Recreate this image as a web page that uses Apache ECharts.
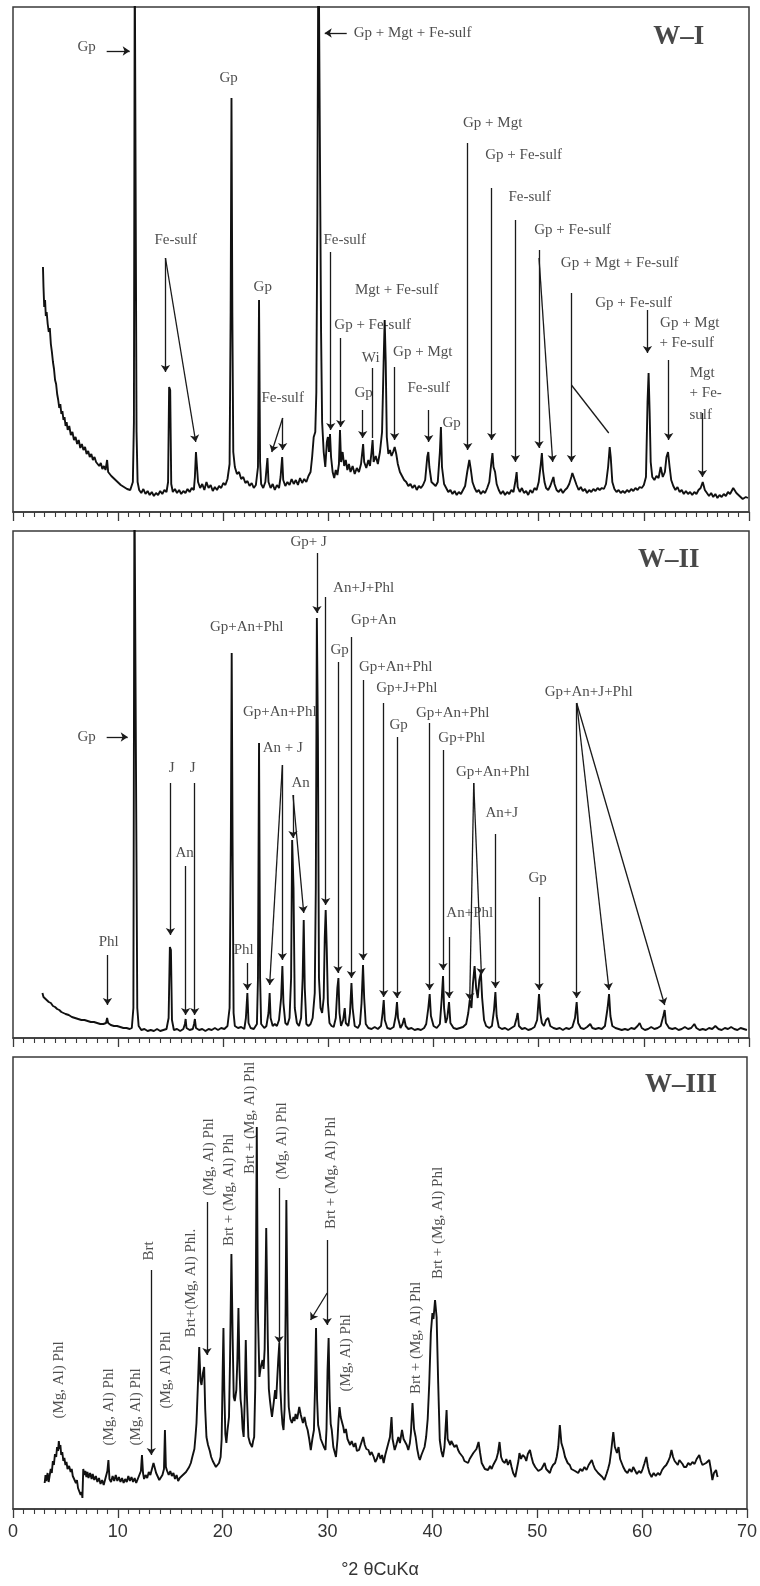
<!DOCTYPE html>
<html><head><meta charset="utf-8">
<script src="https://cdn.jsdelivr.net/npm/echarts@6/dist/echarts.min.js"></script>
<style>html,body{margin:0;padding:0;background:#fff}#c{width:760px;height:1586px}</style>
</head><body><div id="c"></div>
<script>
// ---------- data: [2theta, intensity] ----------
const traceWI = [
[2.85,245],[2.9,225],[2.97,205],[3.05,212],[3.12,196],[3.2,200],[3.3,188],[3.4,180],[3.5,184],[3.6,168],[3.7,160],[3.8,150],[3.9,143],[4.0,132],[4.1,128],[4.2,118],[4.3,112],[4.4,104],[4.5,108],[4.6,98],[4.7,101],[4.8,92],[4.9,95],[5.0,86],[5.1,90],[5.2,82],[5.35,86],[5.5,77],[5.65,80],[5.8,72],[5.95,75],[6.1,68],[6.25,72],[6.4,64],[6.55,68],[6.7,62],[6.85,65],[7.0,58],[7.15,61],[7.3,55],[7.45,58],[7.6,52],[7.75,55],[7.9,50],[8.05,52],[8.2,46],[8.35,49],[8.5,43],[8.65,46],[8.8,42],[8.95,52],[9.05,40],[9.2,41],[9.35,36],[9.5,38],[9.65,33],[9.8,35],[9.95,30],[10.1,32],[10.25,27],[10.4,29],[10.55,25],[10.7,27],[10.85,23],[11.0,25],[11.15,22],[11.3,24],[11.4,30],[11.5,90],[11.58,560],[11.66,560],[11.75,80],[11.85,30],[12.0,22],
[12.2,19],[12.4,23],[12.6,18],[12.8,21],[13.0,17],[13.2,20],[13.4,16],[13.6,19],[13.8,17],[14.0,21],[14.2,18],[14.4,22],[14.6,20],[14.75,30],[14.85,125],[14.95,122],[15.05,28],[15.2,20],[15.4,23],[15.6,19],[15.8,22],[16.0,18],[16.2,21],[16.4,19],[16.6,23],[16.8,20],[17.0,24],[17.2,22],[17.3,35],[17.4,60],[17.5,58],[17.6,30],[17.8,24],[18.0,28],[18.2,22],[18.4,30],[18.6,24],[18.8,27],[19.0,21],[19.2,25],[19.4,22],[19.6,26],[19.8,24],[20.0,29],[20.2,27],[20.4,33],[20.6,48],[20.7,200],[20.78,414],[20.86,200],[20.95,60],[21.1,45],[21.3,38],[21.5,40],[21.7,33],[21.9,35],[22.1,29],[22.3,31],[22.5,26],[22.7,29],[22.9,24],[23.1,27],[23.3,45],[23.4,212],[23.5,50],[23.6,28],[23.8,24],[24.0,30],[24.2,54],[24.3,30],[24.5,24],[24.7,28],[24.9,22],[25.1,27],[25.3,24],[25.45,35],[25.6,55],[25.7,32],[25.9,26],[26.1,30],[26.3,27],[26.5,33],[26.7,28],[26.9,32],[27.1,27],[27.3,34],[27.5,29],[27.7,33],[27.9,30],[28.1,36],[28.3,40],[28.45,55],[28.6,75],[28.75,80],[28.85,120],[28.95,300],[29.05,600],[29.2,600],[29.3,180],[29.4,90],[29.55,60],[29.7,45],[29.85,70],[29.95,75],[30.05,60],[30.15,78],[30.25,55],[30.4,40],[30.55,34],[30.7,42],[30.85,37],[31.0,48],[31.1,82],[31.2,50],[31.35,60],[31.5,46],[31.65,52],[31.8,42],[31.95,48],[32.1,40],[32.3,46],[32.5,38],[32.7,44],[32.9,40],[33.1,48],[33.3,68],[33.4,50],[33.6,44],[33.8,52],[33.95,46],[34.1,60],[34.2,72],[34.3,50],[34.5,56],[34.7,48],[34.9,60],[35.1,80],[35.25,150],[35.35,192],[35.45,150],[35.55,75],[35.7,58],[35.85,62],[36.0,56],[36.15,60],[36.3,65],[36.45,58],[36.6,48],[36.8,40],[37.0,36],[37.2,32],[37.4,30],[37.6,26],[37.8,28],[38.0,24],[38.2,27],[38.4,22],[38.6,26],[38.8,24],[39.0,27],[39.2,32],[39.4,55],[39.5,60],[39.6,45],[39.8,30],[40.0,28],[40.2,26],[40.4,30],[40.6,60],[40.7,85],[40.8,45],[41.0,28],[41.2,24],[41.4,20],[41.6,22],[41.8,18],[42.0,21],[42.2,17],[42.4,20],[42.6,18],[42.8,22],[43.0,26],[43.2,40],[43.4,52],[43.55,42],[43.7,30],[43.9,24],[44.1,20],[44.3,22],[44.5,18],[44.7,21],[44.9,19],[45.1,24],[45.3,30],[45.5,50],[45.6,59],[45.7,45],[45.85,40],[46.0,28],[46.2,22],[46.4,18],[46.6,21],[46.8,17],[47.0,20],[47.2,18],[47.4,22],[47.6,20],[47.8,32],[47.9,40],[48.0,25],[48.2,20],[48.4,24],[48.6,19],[48.8,21],[49.0,17],[49.2,22],[49.4,19],[49.6,24],[49.8,22],[50.0,30],[50.2,48],[50.3,59],[50.4,42],[50.55,30],[50.7,24],[50.9,22],[51.1,26],[51.3,32],[51.4,35],[51.5,28],[51.7,22],[51.9,20],[52.1,23],[52.3,19],[52.5,22],[52.7,24],[52.9,28],[53.1,35],[53.2,39],[53.4,33],[53.6,27],[53.8,22],[54.0,25],[54.2,21],[54.4,23],[54.6,19],[54.8,22],[55.0,20],[55.2,23],[55.4,21],[55.6,24],[55.8,22],[56.0,24],[56.2,23],[56.4,28],[56.6,45],[56.75,65],[56.85,55],[57.0,30],[57.2,23],[57.4,20],[57.6,22],[57.8,19],[58.0,21],[58.2,19],[58.4,22],[58.6,20],[58.8,23],[59.0,21],[59.2,24],[59.4,22],[59.6,25],[59.8,24],[60.0,27],[60.2,35],[60.35,110],[60.45,139],[60.55,100],[60.65,50],[60.8,35],[61.0,32],[61.2,36],[61.4,34],[61.6,45],[61.8,35],[62.0,40],[62.15,55],[62.3,60],[62.45,45],[62.6,32],[62.8,26],[63.0,22],[63.2,25],[63.4,20],[63.6,22],[63.8,18],[64.0,21],[64.2,18],[64.4,20],[64.6,17],[64.8,20],[65.0,18],[65.2,22],[65.4,24],[65.6,30],[65.8,22],[66.0,19],[66.2,16],[66.4,19],[66.6,15],[66.8,18],[67.0,14],[67.2,17],[67.4,15],[67.6,18],[67.8,16],[68.0,20],[68.2,18],[68.5,24],[68.8,19],[69.1,16],[69.4,13],[69.7,15],[69.9,14]
];
const traceWII = [
[2.8,45],[2.9,41],[3.0,43],[3.1,39],[3.25,40],[3.4,36],[3.6,35],[3.8,32],[4.0,31],[4.2,29],[4.4,28],[4.6,26],[4.8,25],[5.0,24],[5.3,23],[5.6,21],[5.9,20],[6.2,19],[6.5,18],[6.8,18],[7.1,17],[7.4,16],[7.7,16],[8.0,15],[8.3,14],[8.6,14],[8.85,15],[8.95,20],[9.05,15],[9.3,13],[9.6,12],[9.9,12],[10.2,11],[10.5,10],[10.8,10],[11.1,9],[11.3,10],[11.45,30],[11.55,560],[11.72,560],[11.82,30],[11.95,12],[12.2,8],[12.5,9],[12.8,7],[13.1,8],[13.4,7],[13.7,9],[14.0,7],[14.3,8],[14.6,9],[14.8,20],[14.92,91],[15.02,88],[15.12,18],[15.3,8],[15.6,9],[15.9,7],[16.2,9],[16.35,14],[16.42,19],[16.5,10],[16.8,8],[17.1,9],[17.22,14],[17.3,19],[17.4,10],[17.7,8],[18.0,9],[18.3,7],[18.6,9],[18.9,8],[19.2,10],[19.5,8],[19.8,10],[20.1,9],[20.4,12],[20.6,30],[20.72,200],[20.8,385],[20.88,200],[20.98,25],[21.1,12],[21.4,10],[21.7,11],[22.0,9],[22.15,20],[22.29,45],[22.4,15],[22.6,10],[22.9,9],[23.2,14],[23.3,60],[23.4,295],[23.5,60],[23.6,14],[23.9,10],[24.1,12],[24.3,25],[24.41,45],[24.5,20],[24.7,12],[24.9,14],[25.1,12],[25.3,18],[25.5,40],[25.62,72],[25.72,35],[25.9,15],[26.1,13],[26.3,20],[26.45,60],[26.55,198],[26.68,150],[26.8,30],[27.0,15],[27.2,12],[27.4,20],[27.55,60],[27.65,118],[27.75,50],[27.9,14],[28.1,12],[28.3,14],[28.5,20],[28.7,45],[28.8,150],[28.9,420],[29.0,300],[29.1,60],[29.25,30],[29.4,25],[29.55,40],[29.65,100],[29.74,128],[29.84,90],[29.95,35],[30.1,15],[30.3,12],[30.5,11],[30.7,20],[30.85,50],[30.95,60],[31.05,25],[31.2,12],[31.4,18],[31.55,30],[31.65,15],[31.9,12],[32.05,25],[32.19,55],[32.3,30],[32.5,12],[32.8,10],[33.0,14],[33.15,35],[33.29,73],[33.4,40],[33.55,14],[33.8,10],[34.1,9],[34.4,11],[34.7,9],[35.0,12],[35.15,25],[35.26,38],[35.36,18],[35.6,10],[35.9,9],[36.2,11],[36.4,22],[36.52,36],[36.62,20],[36.85,10],[37.05,14],[37.2,20],[37.35,12],[37.6,9],[37.9,10],[38.2,8],[38.5,9],[38.8,8],[39.1,10],[39.3,14],[39.5,30],[39.63,44],[39.75,22],[40.0,12],[40.3,10],[40.6,14],[40.78,40],[40.9,62],[41.0,30],[41.15,15],[41.3,20],[41.47,36],[41.6,15],[41.9,10],[42.2,9],[42.5,10],[42.8,11],[43.1,14],[43.3,25],[43.44,38],[43.6,30],[43.75,55],[43.9,72],[44.05,50],[44.2,40],[44.35,58],[44.5,65],[44.62,40],[44.8,18],[45.0,12],[45.3,10],[45.55,12],[45.75,28],[45.88,46],[46.0,22],[46.2,11],[46.5,9],[46.8,10],[47.1,8],[47.4,10],[47.7,12],[47.9,20],[48.0,25],[48.12,12],[48.4,9],[48.7,10],[49.0,8],[49.3,9],[49.6,11],[49.85,18],[50.03,44],[50.15,25],[50.3,15],[50.5,12],[50.7,18],[50.9,20],[51.1,12],[51.4,10],[51.7,9],[52.0,10],[52.3,8],[52.6,10],[52.9,9],[53.2,11],[53.45,20],[53.61,36],[53.75,15],[54.0,10],[54.3,9],[54.6,11],[54.9,14],[55.1,10],[55.4,9],[55.7,10],[56.0,9],[56.3,12],[56.55,30],[56.69,44],[56.82,22],[57.0,12],[57.3,10],[57.6,9],[57.9,8],[58.2,9],[58.5,8],[58.8,10],[59.1,9],[59.4,12],[59.6,15],[59.8,10],[60.1,8],[60.4,9],[60.7,11],[61.0,9],[61.3,10],[61.6,12],[61.85,22],[61.98,28],[62.1,15],[62.4,10],[62.7,9],[63.0,10],[63.3,8],[63.6,9],[63.9,11],[64.2,9],[64.5,10],[64.8,14],[65.0,10],[65.3,8],[65.6,9],[65.9,8],[66.2,10],[66.5,9],[66.8,12],[67.1,9],[67.4,8],[67.7,10],[68.0,9],[68.3,11],[68.6,9],[68.9,8],[69.2,10],[69.5,9],[69.8,8]
];
const traceWIII = [
[3.02,26],[3.1,34],[3.17,28],[3.3,36],[3.4,27],[3.49,33],[3.6,40],[3.7,36],[3.8,48],[3.9,44],[4.0,55],[4.12,52],[4.2,62],[4.3,58],[4.37,68],[4.45,60],[4.52,64],[4.6,54],[4.7,57],[4.8,48],[4.9,51],[5.0,44],[5.1,47],[5.2,40],[5.35,43],[5.5,37],[5.6,40],[5.7,33],[5.85,35],[6.0,26],[6.1,29],[6.2,21],[6.34,20],[6.45,14],[6.55,17],[6.62,11],[6.7,40],[6.8,34],[6.9,38],[7.0,32],[7.1,37],[7.2,31],[7.35,36],[7.5,30],[7.6,35],[7.75,29],[7.9,33],[8.05,27],[8.2,31],[8.35,25],[8.5,29],[8.65,24],[8.8,30],[8.9,28],[9.0,38],[9.1,49],[9.2,30],[9.35,27],[9.5,33],[9.65,28],[9.8,34],[9.95,28],[10.1,32],[10.25,27],[10.4,31],[10.55,26],[10.7,30],[10.85,27],[11.0,33],[11.15,28],[11.3,32],[11.45,27],[11.6,31],[11.75,26],[11.9,30],[12.05,32],[12.2,38],[12.3,54],[12.4,36],[12.5,30],[12.65,34],[12.8,31],[12.95,37],[13.1,34],[13.25,40],[13.4,46],[13.5,42],[13.65,36],[13.8,34],[13.95,29],[14.1,28],[14.25,34],[14.4,40],[14.49,79],[14.58,42],[14.7,38],[14.85,34],[15.0,38],[15.15,33],[15.3,36],[15.45,30],[15.6,34],[15.75,28],[15.9,31],[16.05,30],[16.2,34],[16.35,32],[16.5,37],[16.65,35],[16.8,42],[16.96,46],[17.1,52],[17.2,56],[17.3,60],[17.4,72],[17.5,86],[17.62,120],[17.76,162],[17.88,128],[17.98,124],[18.1,135],[18.23,142],[18.33,100],[18.45,72],[18.6,64],[18.77,58],[18.9,52],[19.05,48],[19.2,45],[19.35,42],[19.5,40],[19.65,46],[19.8,52],[19.9,70],[20.0,140],[20.07,181],[20.15,120],[20.25,75],[20.35,66],[20.45,78],[20.6,92],[20.7,150],[20.83,255],[20.95,170],[21.05,112],[21.15,108],[21.3,119],[21.4,150],[21.5,201],[21.6,140],[21.7,110],[21.8,100],[21.9,80],[22.0,72],[22.1,110],[22.2,169],[22.3,115],[22.45,72],[22.6,66],[22.8,62],[22.9,68],[23.0,72],[23.1,120],[23.25,382],[23.35,200],[23.5,132],[23.6,140],[23.7,145],[23.8,149],[23.9,140],[24.0,160],[24.15,281],[24.3,170],[24.4,120],[24.5,109],[24.6,100],[24.7,92],[24.85,105],[25.0,119],[25.1,110],[25.2,130],[25.3,150],[25.4,166],[25.5,120],[25.6,99],[25.7,85],[25.8,79],[25.9,100],[26.0,200],[26.07,309],[26.15,220],[26.25,120],[26.3,102],[26.45,90],[26.6,86],[26.75,92],[26.85,88],[26.95,95],[27.1,90],[27.2,96],[27.3,102],[27.45,94],[27.55,90],[27.65,86],[27.8,92],[27.95,84],[28.1,79],[28.25,70],[28.4,59],[28.55,70],[28.7,79],[28.8,120],[28.9,181],[29.0,110],[29.1,84],[29.2,79],[29.35,70],[29.5,66],[29.65,62],[29.8,59],[29.9,80],[30.0,140],[30.1,171],[30.2,110],[30.3,85],[30.4,79],[30.55,62],[30.7,56],[30.8,52],[30.95,70],[31.05,90],[31.14,102],[31.25,92],[31.35,88],[31.5,82],[31.6,76],[31.75,80],[31.9,70],[32.0,72],[32.15,64],[32.3,68],[32.5,62],[32.65,66],[32.8,58],[33.0,59],[33.15,64],[33.3,66],[33.4,72],[33.55,64],[33.7,60],[33.9,59],[34.05,54],[34.2,57],[34.4,52],[34.55,47],[34.7,50],[34.88,56],[35.05,50],[35.2,54],[35.35,46],[35.5,54],[35.65,60],[35.8,66],[35.95,72],[36.1,92],[36.2,70],[36.4,59],[36.55,64],[36.75,72],[36.9,66],[37.1,79],[37.25,70],[37.4,72],[37.55,64],[37.7,59],[37.85,66],[37.95,76],[38.1,106],[38.25,80],[38.4,72],[38.55,60],[38.7,52],[38.8,49],[38.95,54],[39.1,56],[39.25,62],[39.4,72],[39.55,90],[39.7,126],[39.85,176],[40.0,196],[40.1,190],[40.25,209],[40.4,192],[40.55,126],[40.7,69],[40.85,58],[41.0,52],[41.15,62],[41.25,80],[41.35,99],[41.45,70],[41.55,72],[41.7,64],[41.8,68],[41.95,66],[42.1,62],[42.3,64],[42.45,59],[42.6,56],[42.75,54],[42.9,52],[43.05,48],[43.2,50],[43.4,46],[43.55,50],[43.7,52],[43.9,56],[44.05,54],[44.2,60],[44.4,67],[44.55,56],[44.7,46],[44.85,44],[45.0,40],[45.15,42],[45.3,39],[45.5,43],[45.65,40],[45.8,44],[45.95,46],[46.1,50],[46.25,56],[46.4,67],[46.55,52],[46.7,48],[46.9,46],[47.05,50],[47.2,44],[47.4,49],[47.55,42],[47.7,36],[47.9,32],[48.05,40],[48.2,48],[48.3,56],[48.45,50],[48.6,54],[48.8,52],[48.95,48],[49.1,55],[49.3,59],[49.45,52],[49.6,46],[49.8,42],[49.95,40],[50.1,38],[50.25,36],[50.4,40],[50.55,43],[50.7,46],[50.85,40],[51.0,38],[51.2,36],[51.35,41],[51.5,44],[51.7,46],[51.85,52],[52.0,62],[52.15,84],[52.3,66],[52.5,59],[52.65,52],[52.9,46],[53.1,44],[53.25,40],[53.4,42],[53.6,38],[53.75,40],[53.9,36],[54.1,40],[54.3,38],[54.5,42],[54.7,39],[54.9,44],[55.05,46],[55.2,49],[55.35,44],[55.5,40],[55.65,38],[55.8,36],[56.0,34],[56.2,32],[56.4,29],[56.6,35],[56.75,40],[56.9,46],[57.05,58],[57.25,77],[57.4,62],[57.5,59],[57.6,56],[57.75,62],[57.9,50],[58.05,46],[58.2,42],[58.4,38],[58.6,36],[58.8,40],[59.0,37],[59.15,42],[59.3,39],[59.5,35],[59.7,38],[59.9,36],[60.05,40],[60.2,45],[60.4,52],[60.55,42],[60.7,36],[60.9,32],[61.1,36],[61.3,33],[61.5,36],[61.7,34],[61.9,39],[62.1,42],[62.3,44],[62.5,48],[62.65,52],[62.8,59],[62.95,52],[63.1,48],[63.2,46],[63.4,44],[63.55,49],[63.7,49],[63.85,45],[64.0,42],[64.2,42],[64.4,46],[64.6,44],[64.8,47],[65.0,45],[65.2,50],[65.45,54],[65.6,48],[65.75,44],[65.9,42],[66.1,46],[66.25,44],[66.4,49],[66.55,40],[66.7,29],[66.85,36],[67.05,39],[67.15,34],[67.2,32]
];
const xTicks = [0,10,20,30,40,50,60,70];
const panelTitles = ['W–I','W–II','W–III'];
// annotation texts: [text, 2theta, intensity]
const labelsWI = [
['Gp',7.01,465],['Gp + Mgt + Fe-sulf',38.0,479],['Gp',20.51,434],['Fe-sulf',15.47,272],['Fe-sulf',31.55,272],
['Gp',23.75,225],['Fe-sulf',25.65,114],['Mgt + Fe-sulf',36.49,222],['Gp + Fe-sulf',34.21,187],['Wi',34.02,154],
['Gp',33.35,119],['Gp + Mgt',38.97,160],['Fe-sulf',39.54,124],['Gp',41.72,89],['Gp + Mgt',45.62,389],
['Gp + Fe-sulf',48.57,357],['Fe-sulf',49.14,315],['Gp + Fe-sulf',53.23,282],['Gp + Mgt + Fe-sulf',57.7,249],
['Gp + Fe-sulf',59.03,209],['Gp + Mgt',64.36,189],['+ Fe-sulf',64.08,169],['Mgt',65.55,139],['+ Fe-',65.88,119],['sulf',65.4,97]
];
const labelsWII = [
['Gp',7.01,301],['Phl',9.1,96],['J',15.09,270],['J',17.09,270],['An',16.33,185],['Phl',21.94,88],
['Gp+An+Phl',22.23,411],['Gp+An+Phl',25.37,326],['An + J',25.65,290],['An',27.36,255],['Gp+ J',28.12,496],
['An+J+Phl',33.35,450],['Gp+An',34.3,418],['Gp',31.07,388],['Gp+An+Phl',36.4,371],['Gp+J+Phl',37.45,350],
['Gp',36.68,313],['Gp+An+Phl',41.82,325],['Gp+Phl',42.68,300],['Gp+An+Phl',45.63,266],['An+Phl',43.44,125],
['An+J',46.48,225],['Gp',49.9,160],['Gp+An+J+Phl',54.75,346]
];
const labelsWIII = [
['(Mg, Al) Phl',4.44,129],['(Mg, Al) Phl',9.2,102],['(Mg, Al) Phl',11.77,102],['Brt',13.0,258],
['(Mg, Al) Phl',14.62,139],['Brt+(Mg, Al) Phl.',17.0,226],['(Mg, Al) Phl',18.71,352],['Brt + (Mg, Al) Phl',20.61,319],
['Brt + (Mg, Al) Phl',22.61,391],['(Mg, Al) Phl',25.65,368],['Brt + (Mg, Al) Phl',30.31,336],['(Mg, Al) Phl',31.74,156],
['Brt + (Mg, Al) Phl',38.4,171],['Brt + (Mg, Al) Phl',40.58,286]
];
const titlePos = [[63.32,475],[62.36,478],[63.7,424]];
// pointer lines: [x1,y1,x2,y2,arrowhead]
const arrowsWI = [
[8.91,461,11.1,461,1],[31.74,479,29.65,479,1],[14.5,254,14.5,140,1],[14.5,254,17.38,70,1],[30.22,260,30.22,82,1],
[25.65,94,24.61,60,1],[25.65,94,25.65,62,1],[31.17,174,31.17,85,1],[34.18,144,34.18,74,0],[33.26,102,33.26,74,1],
[36.3,145,36.3,72,1],[39.54,102,39.54,70,1],[43.25,369,43.25,62,1],[45.53,324,45.53,72,1],[47.78,292,47.78,50,1],
[50.03,262,50.03,64,1],[50.03,254,51.33,50,1],[53.11,219,53.11,50,1],[53.11,127,56.66,79,0],[60.34,202,60.34,159,1],
[62.36,152,62.36,72,1],[65.57,99,65.57,35,1]
];
const arrowsWII = [
[8.91,301,10.91,301,1],[8.98,83,8.98,33,1],[14.97,255,14.97,103,1],[17.28,255,17.28,23,1],[16.42,172,16.42,23,1],
[22.29,75,22.29,48,1],[25.62,273,25.62,78,1],[25.62,273,24.41,53,1],[26.63,243,26.63,200,1],[26.63,243,27.65,125,1],
[28.91,485,28.91,425,1],[29.74,441,29.74,133,1],[32.19,401,32.19,60,1],[30.91,376,30.91,65,1],[33.29,358,33.29,78,1],
[35.26,335,35.26,41,1],[36.52,301,36.52,40,1],[39.63,315,39.63,48,1],[40.9,288,40.9,68,1],[43.82,255,43.44,38,1],
[43.82,255,44.55,63,1],[41.47,101,41.47,40,1],[45.88,204,45.88,50,1],[50.03,141,50.03,48,1],
[53.61,335,53.61,40,1],[53.61,335,56.69,48,1],[53.61,335,61.98,33,1]
];
const arrowsWIII = [
[13.19,239,13.19,54,1],[18.5,307,18.5,154,1],[25.37,321,25.37,166,1],[29.96,269,29.96,184,1],[29.96,216,28.38,189,1]
];

// ---------- chart ----------
const chart = echarts.init(document.getElementById('c'), null, {renderer:'canvas'});
const panels = [
  {top:7, height:505, trace:traceWI, labels:labelsWI, arrows:arrowsWI, rot:0},
  {top:531, height:507, trace:traceWII, labels:labelsWII, arrows:arrowsWII, rot:0},
  {top:1057, height:452, trace:traceWIII, labels:labelsWIII, arrows:arrowsWIII, rot:90}
];
const serif = 'Liberation Serif';
const grid=[], xAxis=[], yAxis=[], series=[];
panels.forEach((p,i)=>{
  grid.push({left:13, right:11, top:p.top, height:p.height, show:true, borderColor:'#3a3a3a', borderWidth:1.5, backgroundColor:'#fff'});
  const last = i===2;
  xAxis.push({type:'value', gridIndex:i, min:0, max:70, interval:10,
    axisLine:{show:true, onZero:false, lineStyle:{color:'#3a3a3a', width:1.5}},
    axisTick:{show:true, length:9, lineStyle:{color:'#3a3a3a', width:1.3}},
    minorTick:{show:true, splitNumber:10, length:5, lineStyle:{color:'#3a3a3a', width:1.1}},
    splitLine:{show:false}, minorSplitLine:{show:false},
    axisLabel:{show:last, margin:14, fontFamily:'Liberation Sans', fontSize:18, color:'#333',
      formatter:v=> xTicks.includes(v) ? String(v) : ''},
    name: last ? '°2 θCuKα' : '', nameLocation:'middle', nameGap:52,
    nameTextStyle:{fontFamily:'Liberation Sans', fontSize:18, color:'#333'}
  });
  yAxis.push({type:'value', gridIndex:i, min:0, max:p.height, show:false});
  series.push({type:'line', xAxisIndex:i, yAxisIndex:i, data:p.trace, showSymbol:false, symbol:'none', clip:true,
    lineStyle:{color:'#111', width:1.9}, silent:true,
    markLine:{silent:true, symbolSize:7, animation:false, label:{show:false},
      lineStyle:{color:'#1a1a1a', width:1.3, type:'solid'},
      data:p.arrows.map(a=>[{coord:[a[0],a[1]], symbol:'none'},{coord:[a[2],a[3]], symbol:a[4]?'arrow':'none'}])}
  });
  series.push({type:'scatter', xAxisIndex:i, yAxisIndex:i, symbolSize:1, clip:false, silent:true,
    itemStyle:{color:'rgba(0,0,0,0)'},
    label:{show:true, position:'inside', rotate:p.rot, fontFamily:serif, fontSize:15, color:'#222'},
    data:p.labels.map(l=>({value:[l[1],l[2]], label:{formatter:l[0]}}))
  });
  series.push({type:'scatter', xAxisIndex:i, yAxisIndex:i, symbolSize:1, clip:false, silent:true,
    itemStyle:{color:'rgba(0,0,0,0)'},
    label:{show:true, position:'inside', fontFamily:serif, fontSize:27, fontWeight:'bold', color:'#1a1a1a', formatter:panelTitles[i]},
    data:[titlePos[i]]
  });
});
chart.setOption({animation:false, backgroundColor:'#fff', grid, xAxis, yAxis, series});
</script></body></html>
